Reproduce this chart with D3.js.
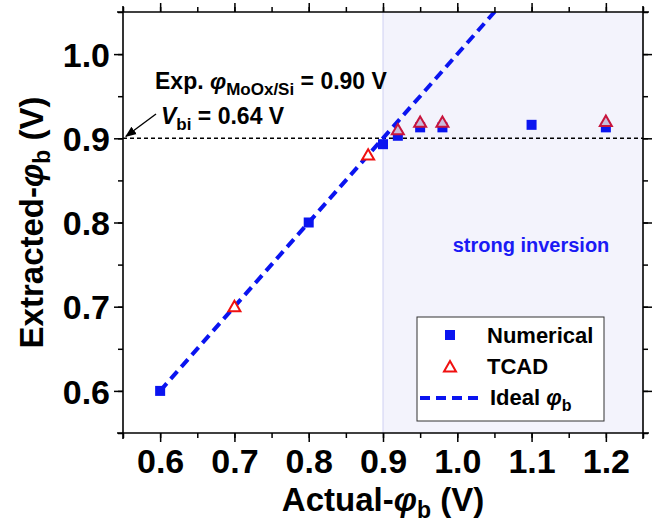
<!DOCTYPE html>
<html>
<head>
<meta charset="utf-8">
<script src="https://cdn.jsdelivr.net/npm/d3@7"></script>
<style>
  body { margin: 0; background: #fff; }
  svg { display: block; font-family: "Liberation Sans", Arial, sans-serif; font-weight: bold; }
</style>
</head>
<body>
<svg id="chart" width="654" height="524"></svg>
<script>
// data
const numericalX = [0.6, 0.8, 0.9, 0.92, 0.95, 0.98, 1.1, 1.2];
const numericalY = [0.600, 0.800, 0.893, 0.903, 0.913, 0.913, 0.916, 0.913];
const tcadX = [0.7, 0.88, 0.92, 0.95, 0.98, 1.2];
const tcadY = [0.700, 0.880, 0.910, 0.919, 0.919, 0.920];
const idealLine = [0.6, 1.1];
const xTicks = [0.6, 0.7, 0.8, 0.9, 1.0, 1.1, 1.2];
const yTicks = [0.6, 0.7, 0.8, 0.9, 1.0];
const expPhi = 0.9;
const inversionStart = 0.9;

const width = 654;
const height = 524;
const margin = { top: 12, right: 11, bottom: 91, left: 123 };

const svg = d3.select("#chart");

const x = d3.scaleLinear().domain([0.55, 1.25]).range([margin.left, width - margin.right]);
const y = d3.scaleLinear().domain([0.55, 1.05]).range([height - margin.bottom, margin.top]);

const minorX = d3.range(0.55, 1.2501, 0.05);
const minorY = d3.range(0.55, 1.0501, 0.05);

svg.append("defs").append("clipPath").attr("id", "clip")
  .append("rect")
  .attr("x", margin.left).attr("y", margin.top)
  .attr("width", width - margin.left - margin.right)
  .attr("height", height - margin.top - margin.bottom);

// strong inversion shading
svg.append("rect")
  .attr("x", x(inversionStart))
  .attr("y", margin.top)
  .attr("width", x(1.25) - x(inversionStart))
  .attr("height", y(0.55) - margin.top)
  .attr("fill", "#f3f3fc");
svg.append("line")
  .attr("x1", x(inversionStart)).attr("x2", x(inversionStart))
  .attr("y1", margin.top).attr("y2", y(0.55))
  .attr("stroke", "#cfd0f2").attr("stroke-width", 1);

// horizontal reference line at experimental phi
svg.append("line")
  .attr("x1", x(0.55)).attr("x2", x(1.25))
  .attr("y1", y(expPhi)).attr("y2", y(expPhi))
  .attr("stroke", "#000").attr("stroke-width", 1.6)
  .attr("stroke-dasharray", "4,3");

// ideal line
svg.append("line")
  .attr("clip-path", "url(#clip)")
  .attr("x1", x(idealLine[0])).attr("y1", y(idealLine[0]))
  .attr("x2", x(idealLine[1])).attr("y2", y(idealLine[1]))
  .attr("stroke", "#0a14f0").attr("stroke-width", 4)
  .attr("stroke-dasharray", "10,6");

// numerical squares
const sq = 10;
svg.append("g").selectAll("rect")
  .data(numericalX.map((d, i) => [d, numericalY[i]]))
  .join("rect")
  .attr("x", (d) => x(d[0]) - sq / 2)
  .attr("y", (d) => y(d[1]) - sq / 2)
  .attr("width", sq).attr("height", sq)
  .attr("fill", "#0a14f0");

// tcad triangles
const tri = d3.symbol().type(d3.symbolTriangle).size(62);
svg.append("g").selectAll("path")
  .data(tcadX.map((d, i) => [d, tcadY[i]]))
  .join("path")
  .attr("d", tri)
  .attr("transform", (d) => `translate(${x(d[0])},${y(d[1]) + 1})`)
  .attr("fill", (d) => (d[0] > inversionStart ? "#c9bcdc" : "#fff"))
  .attr("stroke", (d) => (d[0] > inversionStart ? "#c8143c" : "#f01010"))
  .attr("stroke-width", 2);

// axes
const axisStyle = (g) => {
  g.selectAll("path.domain").remove();
  g.selectAll("line").attr("stroke", "#000").attr("stroke-width", 1.5);
  g.selectAll("text").attr("fill", "#000").attr("font-size", 34);
};

svg.append("g")
  .attr("transform", `translate(0,${y(0.55)})`)
  .call(d3.axisBottom(x).tickValues(minorX).tickSize(5).tickFormat(""))
  .call(axisStyle);
const bottomMajor = svg.append("g")
  .attr("transform", `translate(0,${y(0.55)})`)
  .call(d3.axisBottom(x).tickValues(xTicks).tickSize(9).tickPadding(8).tickFormat(d3.format(".1f")));
bottomMajor.call(axisStyle);
bottomMajor.selectAll("text").attr("dy", "0.71em").attr("y", 16);

svg.append("g")
  .attr("transform", `translate(0,${margin.top})`)
  .call(d3.axisTop(x).tickValues(minorX).tickSize(5).tickFormat(""))
  .call(axisStyle);
svg.append("g")
  .attr("transform", `translate(0,${margin.top})`)
  .call(d3.axisTop(x).tickValues(xTicks).tickSize(9).tickFormat(""))
  .call(axisStyle);

svg.append("g")
  .attr("transform", `translate(${margin.left},0)`)
  .call(d3.axisLeft(y).tickValues(minorY).tickSize(5).tickFormat(""))
  .call(axisStyle);
const leftMajor = svg.append("g")
  .attr("transform", `translate(${margin.left},0)`)
  .call(d3.axisLeft(y).tickValues(yTicks).tickSize(9).tickPadding(8).tickFormat(d3.format(".1f")));
leftMajor.call(axisStyle);
leftMajor.selectAll("text").attr("x", -13).attr("dy", "0.36em");

svg.append("g")
  .attr("transform", `translate(${width - margin.right},0)`)
  .call(d3.axisRight(y).tickValues(minorY).tickSize(5).tickFormat(""))
  .call(axisStyle);
svg.append("g")
  .attr("transform", `translate(${width - margin.right},0)`)
  .call(d3.axisRight(y).tickValues(yTicks).tickSize(9).tickFormat(""))
  .call(axisStyle);

// frame
const frame = svg.append("g").attr("stroke", "#000").attr("stroke-width", 1.6);
frame.append("line").attr("x1", x(0.55) - 6).attr("x2", x(1.25) + 6).attr("y1", y(0.55)).attr("y2", y(0.55));
frame.append("line").attr("x1", x(0.55) - 6).attr("x2", x(1.25) + 6).attr("y1", y(1.05)).attr("y2", y(1.05));
frame.append("line").attr("x1", x(0.55)).attr("x2", x(0.55)).attr("y1", y(1.05) - 6).attr("y2", y(0.55) + 6);
frame.append("line").attr("x1", x(1.25)).attr("x2", x(1.25)).attr("y1", y(1.05) - 6).attr("y2", y(0.55) + 6);

// axis titles
const xTitle = svg.append("text")
  .attr("x", x(0.9)).attr("y", 511)
  .attr("text-anchor", "middle").attr("font-size", 33);
xTitle.append("tspan").text("Actual-");
xTitle.append("tspan").attr("font-style", "italic").text("φ");
xTitle.append("tspan").attr("font-size", 23).attr("dy", 7).text("b");
xTitle.append("tspan").attr("dy", -7).text(" (V)");

const yTitle = svg.append("text")
  .attr("transform", `translate(43,${y(0.8)}) rotate(-90)`)
  .attr("text-anchor", "middle").attr("font-size", 33);
yTitle.append("tspan").text("Extracted-");
yTitle.append("tspan").attr("font-style", "italic").text("φ");
yTitle.append("tspan").attr("font-size", 23).attr("dy", 7).text("b");
yTitle.append("tspan").attr("dy", -7).text(" (V)");

// annotations
const expText = svg.append("text").attr("x", 155).attr("y", 89).attr("font-size", 23);
expText.append("tspan").text("Exp. ");
expText.append("tspan").attr("font-style", "italic").text("φ");
expText.append("tspan").attr("font-size", 17).attr("dy", 6).text("MoOx/Si");
expText.append("tspan").attr("dy", -6).text(" = 0.90 V");

const vbiText = svg.append("text").attr("x", 161).attr("y", 124).attr("font-size", 23);
vbiText.append("tspan").attr("font-style", "italic").text("V");
vbiText.append("tspan").attr("font-size", 17).attr("dy", 6).text("bi");
vbiText.append("tspan").attr("dy", -6).text(" = 0.64 V");

svg.append("defs").append("marker")
  .attr("id", "arrow").attr("viewBox", "0 0 10 10")
  .attr("refX", 9).attr("refY", 5)
  .attr("markerWidth", 8).attr("markerHeight", 8)
  .attr("orient", "auto")
  .append("path").attr("d", "M0,1 L10,5 L0,9 Z").attr("fill", "#000");
svg.append("line")
  .attr("x1", 156).attr("y1", 114)
  .attr("x2", x(0.55) + 3).attr("y2", y(expPhi) - 2)
  .attr("stroke", "#000").attr("stroke-width", 1.4)
  .attr("marker-end", "url(#arrow)");

svg.append("text")
  .attr("x", 531).attr("y", 252)
  .attr("text-anchor", "middle")
  .attr("font-size", 20).attr("fill", "#1a1af5")
  .text("strong inversion");

// legend
const legend = svg.append("g");
legend.append("rect")
  .attr("x", 417).attr("y", 317).attr("width", 187).attr("height", 104)
  .attr("fill", "#fff").attr("stroke", "#333").attr("stroke-width", 1);
legend.append("rect")
  .attr("x", 450 - sq / 2).attr("y", 335 - sq / 2).attr("width", sq).attr("height", sq)
  .attr("fill", "#0a14f0");
legend.append("path")
  .attr("d", tri).attr("transform", "translate(450,368)")
  .attr("fill", "#fff").attr("stroke", "#f01010").attr("stroke-width", 2);
legend.append("line")
  .attr("x1", 420).attr("x2", 481).attr("y1", 398).attr("y2", 398)
  .attr("stroke", "#0a14f0").attr("stroke-width", 4).attr("stroke-dasharray", "10,6");
legend.append("text").attr("x", 487).attr("y", 343).attr("font-size", 22).text("Numerical");
legend.append("text").attr("x", 487).attr("y", 374).attr("font-size", 22).text("TCAD");
const idealText = legend.append("text").attr("x", 490).attr("y", 405).attr("font-size", 22);
idealText.append("tspan").text("Ideal ");
idealText.append("tspan").attr("font-style", "italic").text("φ");
idealText.append("tspan").attr("font-size", 16).attr("dy", 6).text("b");
</script>
</body>
</html>
